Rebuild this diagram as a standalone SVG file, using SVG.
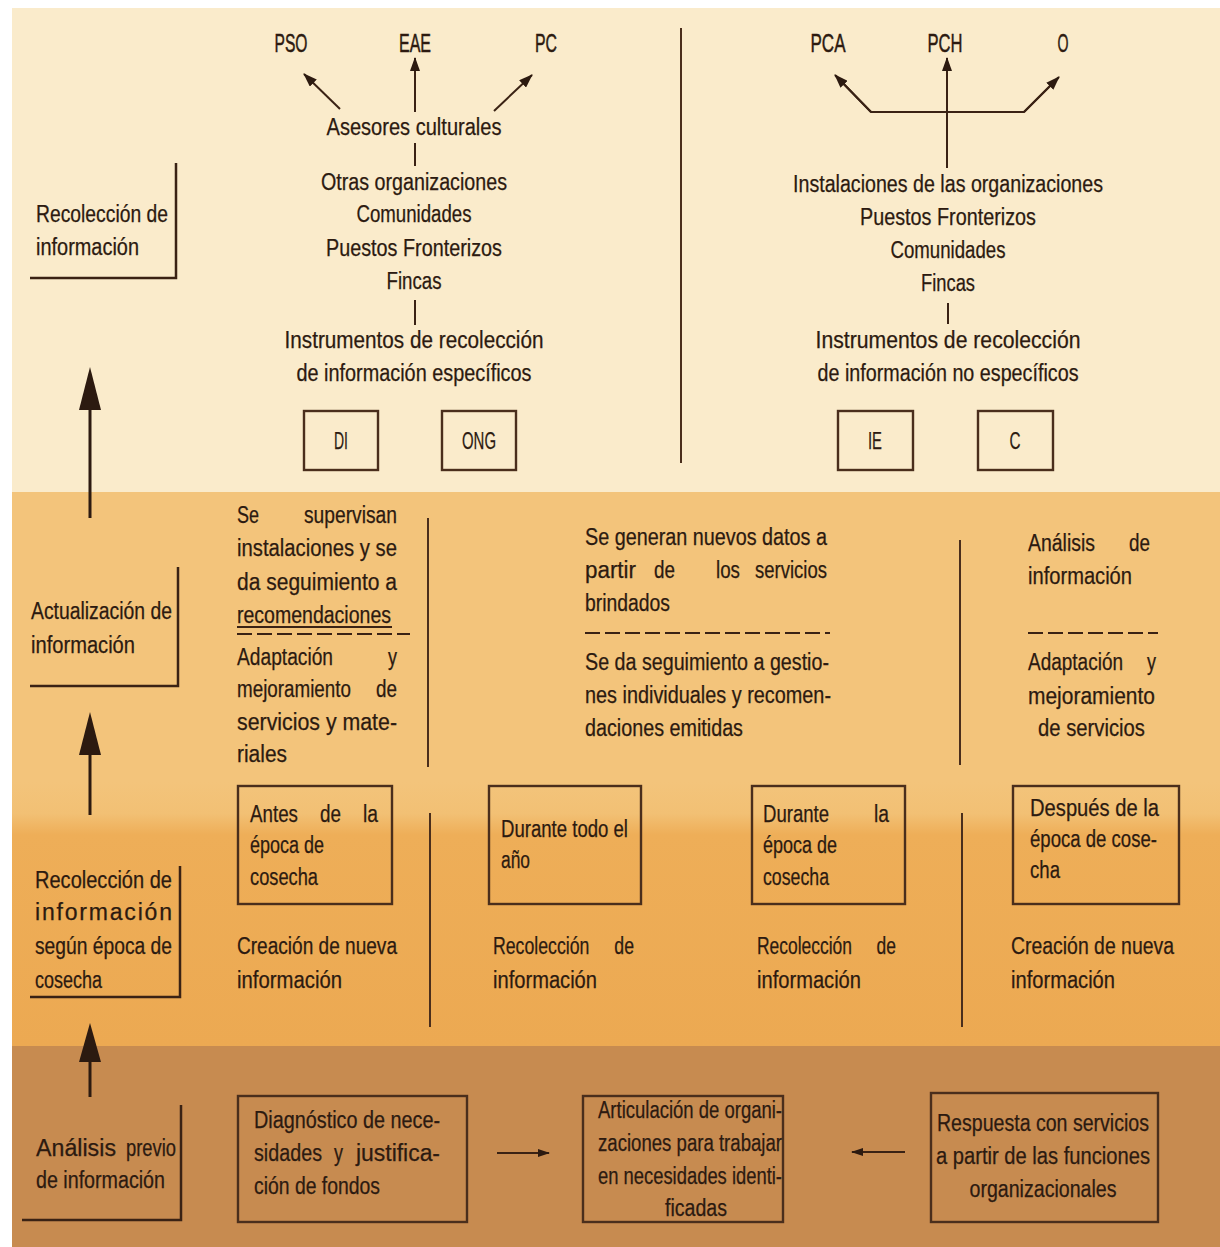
<svg xmlns="http://www.w3.org/2000/svg" width="1220" height="1247" viewBox="0 0 1220 1247">
<defs>
<style>
.t{font-family:"Liberation Sans",Arial,sans-serif;font-size:23px;fill:#2c1a10;stroke:#2c1a10;stroke-width:0.25}
.lb{font-family:"Liberation Sans",Arial,sans-serif;font-size:26px;fill:#2c1a10;stroke:#2c1a10;stroke-width:0.5}
.ln{stroke:#3a2214;stroke-width:2;fill:none}
.dv{stroke:#4a2e1c;stroke-width:2;fill:none}
.lshape{stroke:#3a2214;stroke-width:2.5;fill:none}
.box{stroke:#4a2e1c;stroke-width:2.4;fill:none}
.dash{stroke:#3a2214;stroke-width:2;stroke-dasharray:15 5;fill:none}
.ws{word-spacing:26px}
</style>
<marker id="ah" markerUnits="userSpaceOnUse" markerWidth="14" markerHeight="10" refX="13" refY="5" orient="auto">
<path d="M0,0 L14,5 L0,10 z" fill="#2c1a10"/>
</marker>
<marker id="ahs" markerUnits="userSpaceOnUse" markerWidth="12" markerHeight="8" refX="11" refY="4" orient="auto">
<path d="M0,0 L12,4 L0,8 z" fill="#2c1a10"/>
</marker>
<linearGradient id="g23" x1="0" y1="0" x2="0" y2="1">
<stop offset="0" stop-color="#F3C47B"/>
<stop offset="0.12" stop-color="#F2C074"/>
<stop offset="0.2" stop-color="#EEAE58"/>
<stop offset="1" stop-color="#ECA952"/>
</linearGradient>
</defs>

<g id="background">
<rect x="0" y="0" width="1220" height="1247" fill="#ffffff"/>
<rect x="12" y="8" width="1208" height="484" fill="#FAEBCB"/>
<rect x="12" y="492" width="1208" height="290" fill="#F3C47B"/>
<rect x="12" y="782" width="1208" height="264" fill="url(#g23)"/>
<rect x="12" y="1046" width="1208" height="201" fill="#C78B50"/>
</g>

<g id="connectors">
<line class="ln" x1="340" y1="109" x2="304" y2="74" marker-end="url(#ah)"/>
<line class="ln" x1="415" y1="112" x2="415" y2="58" marker-end="url(#ah)"/>
<line class="ln" x1="494" y1="111" x2="532" y2="75" marker-end="url(#ah)"/>
<line class="ln" x1="415" y1="143" x2="415" y2="166"/>
<line class="ln" x1="415" y1="300" x2="415" y2="325"/>
<line class="ln" x1="947" y1="168" x2="947" y2="58" marker-end="url(#ah)"/>
<polyline class="ln" points="836,76 871,112 1024,112 1058,78"/>
<line class="ln" x1="871" y1="112" x2="835" y2="75" marker-end="url(#ah)"/>
<line class="ln" x1="1024" y1="112" x2="1059" y2="77" marker-end="url(#ah)"/>
<line class="ln" x1="948" y1="303" x2="948" y2="324"/>
<line x1="90" y1="405" x2="90" y2="518" stroke="#2c1a10" stroke-width="3"/>
<polygon points="90,367 79,410 101,410" fill="#2c1a10"/>
<line x1="90" y1="750" x2="90" y2="815" stroke="#2c1a10" stroke-width="3"/>
<polygon points="90,712 79,755 101,755" fill="#2c1a10"/>
<line x1="90" y1="1058" x2="90" y2="1097" stroke="#2c1a10" stroke-width="3"/>
<polygon points="90,1023 79,1062 101,1062" fill="#2c1a10"/>
<line class="ln" x1="497" y1="1153" x2="549" y2="1153" marker-end="url(#ahs)"/>
<line class="ln" x1="905" y1="1152" x2="852" y2="1152" marker-end="url(#ahs)"/>
</g>

<g id="dividers">
<line class="dv" x1="681" y1="28" x2="681" y2="463"/>
<line class="dv" x1="428" y1="518" x2="428" y2="767"/>
<line class="dv" x1="960" y1="540" x2="960" y2="765"/>
<line class="dv" x1="430" y1="813" x2="430" y2="1027"/>
<line class="dv" x1="962" y1="813" x2="962" y2="1027"/>
<line class="ln" x1="237" y1="627" x2="392" y2="627" stroke-width="1.5"/>
<line class="dash" x1="237" y1="634" x2="410" y2="634"/>
<line class="dash" x1="585" y1="633" x2="830" y2="633"/>
<line class="dash" x1="1028" y1="633" x2="1158" y2="633"/>
</g>

<g id="top-center">
<text class="lb" x="291" y="52" text-anchor="middle" textLength="33" lengthAdjust="spacingAndGlyphs">PSO</text>
<text class="lb" x="415" y="52" text-anchor="middle" textLength="32" lengthAdjust="spacingAndGlyphs">EAE</text>
<text class="lb" x="546" y="52" text-anchor="middle" textLength="22" lengthAdjust="spacingAndGlyphs">PC</text>
<text class="t" x="414" y="135" text-anchor="middle" textLength="175" lengthAdjust="spacingAndGlyphs">Asesores culturales</text>
<text class="t" x="414" y="190" text-anchor="middle" textLength="186" lengthAdjust="spacingAndGlyphs">Otras organizaciones</text>
<text class="t" x="414" y="222" text-anchor="middle" textLength="115" lengthAdjust="spacingAndGlyphs">Comunidades</text>
<text class="t" x="414" y="256" text-anchor="middle" textLength="176" lengthAdjust="spacingAndGlyphs">Puestos Fronterizos</text>
<text class="t" x="414" y="289" text-anchor="middle" textLength="55" lengthAdjust="spacingAndGlyphs">Fincas</text>
<text class="t" x="414" y="348" text-anchor="middle" textLength="259" lengthAdjust="spacingAndGlyphs">Instrumentos de recolección</text>
<text class="t" x="414" y="381" text-anchor="middle" textLength="235" lengthAdjust="spacingAndGlyphs">de información específicos</text>
</g>

<g id="box-DI">
<rect class="box" x="304" y="411" width="74" height="59"/>
<text class="t" x="341" y="449" text-anchor="middle" textLength="14" lengthAdjust="spacingAndGlyphs">DI</text>
</g>
<g id="box-ONG">
<rect class="box" x="442" y="411" width="74" height="59"/>
<text class="t" x="479" y="449" text-anchor="middle" textLength="34" lengthAdjust="spacingAndGlyphs">ONG</text>
</g>

<g id="top-right">
<text class="lb" x="828" y="52" text-anchor="middle" textLength="35" lengthAdjust="spacingAndGlyphs">PCA</text>
<text class="lb" x="945" y="52" text-anchor="middle" textLength="35" lengthAdjust="spacingAndGlyphs">PCH</text>
<text class="lb" x="1063" y="52" text-anchor="middle" textLength="11" lengthAdjust="spacingAndGlyphs">O</text>
<text class="t" x="948" y="192" text-anchor="middle" textLength="310" lengthAdjust="spacingAndGlyphs">Instalaciones de las organizaciones</text>
<text class="t" x="948" y="225" text-anchor="middle" textLength="176" lengthAdjust="spacingAndGlyphs">Puestos Fronterizos</text>
<text class="t" x="948" y="258" text-anchor="middle" textLength="115" lengthAdjust="spacingAndGlyphs">Comunidades</text>
<text class="t" x="948" y="291" text-anchor="middle" textLength="54" lengthAdjust="spacingAndGlyphs">Fincas</text>
<text class="t" x="948" y="348" text-anchor="middle" textLength="265" lengthAdjust="spacingAndGlyphs">Instrumentos de recolección</text>
<text class="t" x="948" y="381" text-anchor="middle" textLength="261" lengthAdjust="spacingAndGlyphs">de información no específicos</text>
</g>

<g id="box-IE">
<rect class="box" x="838" y="411" width="75" height="59"/>
<text class="t" x="875" y="449" text-anchor="middle" textLength="14" lengthAdjust="spacingAndGlyphs">IE</text>
</g>
<g id="box-C">
<rect class="box" x="978" y="411" width="75" height="59"/>
<text class="t" x="1015" y="449" text-anchor="middle" textLength="11" lengthAdjust="spacingAndGlyphs">C</text>
</g>

<g id="label-recoleccion">
<path class="lshape" d="M176,163 V278 H30"/>
<text class="t" x="36" y="222" textLength="132" lengthAdjust="spacingAndGlyphs">Recolección de</text>
<text class="t" x="36" y="255" textLength="103" lengthAdjust="spacingAndGlyphs">información</text>
</g>

<g id="label-actualizacion">
<path class="lshape" d="M178,567 V686 H30"/>
<text class="t" x="31" y="619" textLength="141" lengthAdjust="spacingAndGlyphs">Actualización de</text>
<text class="t" x="31" y="653" textLength="104" lengthAdjust="spacingAndGlyphs">información</text>
</g>

<g id="label-epoca">
<path class="lshape" d="M180,866 V997 H30"/>
<text class="t" x="35" y="888" textLength="137" lengthAdjust="spacingAndGlyphs">Recolección de</text>
<text class="t" x="35" y="920" textLength="137" lengthAdjust="spacing">información</text>
<text class="t" x="35" y="954" textLength="137" lengthAdjust="spacingAndGlyphs">según época de</text>
<text class="t" x="35" y="988" textLength="67" lengthAdjust="spacingAndGlyphs">cosecha</text>
</g>

<g id="label-analisis">
<path class="lshape" d="M181,1105 V1220 H22"/>
<text class="t" y="1156"><tspan x="36" textLength="80" lengthAdjust="spacingAndGlyphs">Análisis</tspan><tspan x="126" textLength="50" lengthAdjust="spacingAndGlyphs">previo</tspan></text>
<text class="t" x="36" y="1188" textLength="129" lengthAdjust="spacingAndGlyphs">de información</text>
</g>

<g id="col1-actualizacion">
<text class="t" y="523"><tspan x="237" textLength="22" lengthAdjust="spacingAndGlyphs">Se</tspan><tspan x="304" textLength="93" lengthAdjust="spacingAndGlyphs">supervisan</tspan></text>
<text class="t" x="237" y="556" textLength="160" lengthAdjust="spacingAndGlyphs">instalaciones y se</text>
<text class="t" x="237" y="590" textLength="160" lengthAdjust="spacingAndGlyphs">da seguimiento a</text>
<text class="t" x="237" y="623" textLength="154" lengthAdjust="spacingAndGlyphs">recomendaciones</text>
<text class="t" y="665"><tspan x="237" textLength="96" lengthAdjust="spacingAndGlyphs">Adaptación</tspan><tspan x="388" textLength="9" lengthAdjust="spacingAndGlyphs">y</tspan></text>
<text class="t" y="697"><tspan x="237" textLength="114" lengthAdjust="spacingAndGlyphs">mejoramiento</tspan><tspan x="376" textLength="21" lengthAdjust="spacingAndGlyphs">de</tspan></text>
<text class="t" x="237" y="730" textLength="160" lengthAdjust="spacingAndGlyphs">servicios y mate-</text>
<text class="t" x="237" y="762" textLength="50" lengthAdjust="spacingAndGlyphs">riales</text>
</g>

<g id="col2-actualizacion">
<text class="t" x="585" y="545" textLength="242" lengthAdjust="spacingAndGlyphs">Se generan nuevos datos a</text>
<text class="t" y="578"><tspan x="585" textLength="51" lengthAdjust="spacingAndGlyphs">partir</tspan><tspan x="654" textLength="21" lengthAdjust="spacingAndGlyphs">de</tspan><tspan x="716" textLength="24" lengthAdjust="spacingAndGlyphs">los</tspan><tspan x="755" textLength="72" lengthAdjust="spacingAndGlyphs">servicios</tspan></text>
<text class="t" x="585" y="611" textLength="85" lengthAdjust="spacingAndGlyphs">brindados</text>
<text class="t" x="585" y="670" textLength="244" lengthAdjust="spacingAndGlyphs">Se da seguimiento a gestio-</text>
<text class="t" x="585" y="703" textLength="246" lengthAdjust="spacingAndGlyphs">nes individuales y recomen-</text>
<text class="t" x="585" y="736" textLength="158" lengthAdjust="spacingAndGlyphs">daciones emitidas</text>
</g>

<g id="col3-actualizacion">
<text class="t" y="551"><tspan x="1028" textLength="67" lengthAdjust="spacingAndGlyphs">Análisis</tspan><tspan x="1129" textLength="21" lengthAdjust="spacingAndGlyphs">de</tspan></text>
<text class="t" x="1028" y="584" textLength="104" lengthAdjust="spacingAndGlyphs">información</text>
<text class="t" y="670"><tspan x="1028" textLength="95" lengthAdjust="spacingAndGlyphs">Adaptación</tspan><tspan x="1147" textLength="9" lengthAdjust="spacingAndGlyphs">y</tspan></text>
<text class="t" x="1028" y="704" textLength="127" lengthAdjust="spacingAndGlyphs">mejoramiento</text>
<text class="t" x="1038" y="736" textLength="107" lengthAdjust="spacingAndGlyphs">de servicios</text>
</g>

<g id="box-antes">
<rect class="box" x="238" y="786" width="154" height="118"/>
<text class="t" y="822"><tspan x="250" textLength="48" lengthAdjust="spacingAndGlyphs">Antes</tspan><tspan x="320" textLength="21" lengthAdjust="spacingAndGlyphs">de</tspan><tspan x="363" textLength="15" lengthAdjust="spacingAndGlyphs">la</tspan></text>
<text class="t" x="250" y="853" textLength="74" lengthAdjust="spacingAndGlyphs">época de</text>
<text class="t" x="250" y="885" textLength="68" lengthAdjust="spacingAndGlyphs">cosecha</text>
</g>
<g id="box-todo-el-ano">
<rect class="box" x="489" y="786" width="152" height="118"/>
<text class="t" x="501" y="837" textLength="127" lengthAdjust="spacingAndGlyphs">Durante todo el</text>
<text class="t" x="501" y="868" textLength="29" lengthAdjust="spacingAndGlyphs">año</text>
</g>
<g id="box-durante">
<rect class="box" x="752" y="786" width="153" height="118"/>
<text class="t" y="822"><tspan x="763" textLength="66" lengthAdjust="spacingAndGlyphs">Durante</tspan><tspan x="874" textLength="15" lengthAdjust="spacingAndGlyphs">la</tspan></text>
<text class="t" x="763" y="853" textLength="74" lengthAdjust="spacingAndGlyphs">época de</text>
<text class="t" x="763" y="885" textLength="66" lengthAdjust="spacingAndGlyphs">cosecha</text>
</g>
<g id="box-despues">
<rect class="box" x="1013" y="786" width="166" height="118"/>
<text class="t" x="1030" y="816" textLength="129" lengthAdjust="spacingAndGlyphs">Después de la</text>
<text class="t" x="1030" y="847" textLength="127" lengthAdjust="spacingAndGlyphs">época de cose-</text>
<text class="t" x="1030" y="878" textLength="30" lengthAdjust="spacingAndGlyphs">cha</text>
</g>

<g id="creacion-1">
<text class="t" x="237" y="954" textLength="160" lengthAdjust="spacingAndGlyphs">Creación de nueva</text>
<text class="t" x="237" y="988" textLength="105" lengthAdjust="spacingAndGlyphs">información</text>
</g>
<g id="recoleccion-2">
<text class="t ws" x="493" y="954" textLength="141" lengthAdjust="spacingAndGlyphs">Recolección de</text>
<text class="t" x="493" y="988" textLength="104" lengthAdjust="spacingAndGlyphs">información</text>
</g>
<g id="recoleccion-3">
<text class="t ws" x="757" y="954" textLength="139" lengthAdjust="spacingAndGlyphs">Recolección de</text>
<text class="t" x="757" y="988" textLength="104" lengthAdjust="spacingAndGlyphs">información</text>
</g>
<g id="creacion-4">
<text class="t" x="1011" y="954" textLength="163" lengthAdjust="spacingAndGlyphs">Creación de nueva</text>
<text class="t" x="1011" y="988" textLength="104" lengthAdjust="spacingAndGlyphs">información</text>
</g>

<g id="box-diagnostico">
<rect class="box" x="238" y="1096" width="229" height="126"/>
<text class="t" x="254" y="1128" textLength="186" lengthAdjust="spacingAndGlyphs">Diagnóstico de nece-</text>
<text class="t" y="1161"><tspan x="254" textLength="68" lengthAdjust="spacingAndGlyphs">sidades</tspan><tspan x="334" textLength="9" lengthAdjust="spacingAndGlyphs">y</tspan><tspan x="356" textLength="84" lengthAdjust="spacingAndGlyphs">justifica-</tspan></text>
<text class="t" x="254" y="1194" textLength="126" lengthAdjust="spacingAndGlyphs">ción de fondos</text>
</g>
<g id="box-articulacion">
<rect class="box" x="583" y="1096" width="200" height="126"/>
<text class="t" x="690" y="1118" text-anchor="middle" textLength="184" lengthAdjust="spacingAndGlyphs">Articulación de organi-</text>
<text class="t" x="690" y="1151" text-anchor="middle" textLength="184" lengthAdjust="spacingAndGlyphs">zaciones para trabajar</text>
<text class="t" x="690" y="1184" text-anchor="middle" textLength="184" lengthAdjust="spacingAndGlyphs">en necesidades identi-</text>
<text class="t" x="696" y="1216" text-anchor="middle" textLength="62" lengthAdjust="spacingAndGlyphs">ficadas</text>
</g>
<g id="box-respuesta">
<rect class="box" x="931" y="1093" width="227" height="129"/>
<text class="t" x="1043" y="1131" text-anchor="middle" textLength="212" lengthAdjust="spacingAndGlyphs">Respuesta con servicios</text>
<text class="t" x="1043" y="1164" text-anchor="middle" textLength="214" lengthAdjust="spacingAndGlyphs">a partir de las funciones</text>
<text class="t" x="1043" y="1197" text-anchor="middle" textLength="147" lengthAdjust="spacingAndGlyphs">organizacionales</text>
</g>
</svg>
